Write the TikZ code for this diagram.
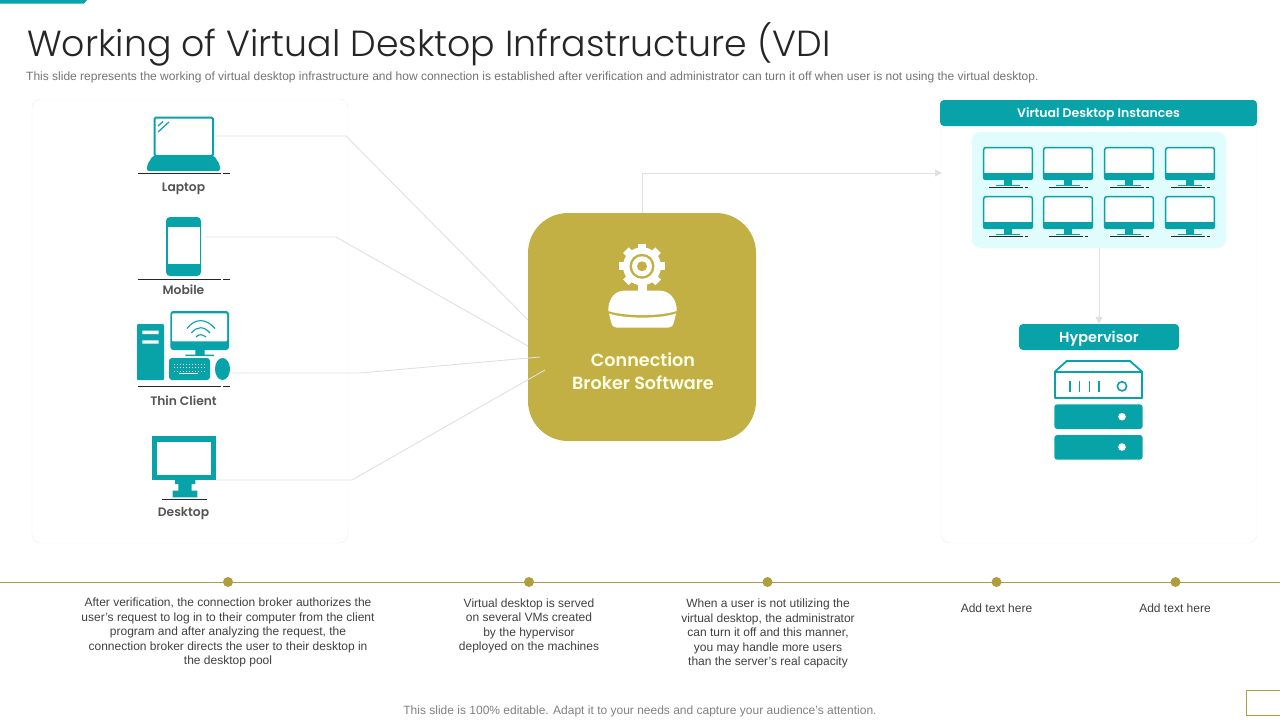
\documentclass[tikz,border=0pt]{standalone}
\usepackage{fontspec}
\setmainfont{Liberation Sans}
\newfontfamily\gothicfont{Poppins SemiBold}
\newfontfamily\lightfont{Poppins Light}
\usetikzlibrary{arrows.meta}
\definecolor{teal}{HTML}{07A3A8}
\definecolor{gold}{HTML}{C3B045}
\definecolor{paleteal}{HTML}{E0FCFC}
\definecolor{wire}{HTML}{E0E0E0}
\definecolor{panelline}{HTML}{F0F0F0}
\definecolor{bodygray}{HTML}{404040}
\definecolor{labelgray}{HTML}{555555}
\tikzset{
  panel/.style={draw=panelline, fill=white, rounded corners=9, inner sep=0},
  header/.style={fill=teal, text=white, rounded corners=4, inner sep=0, text height=9, text depth=0, font=\gothicfont\fontsize{12.5}{15}\selectfont},
  iconlabel/.style={text=labelgray, inner sep=0, font=\gothicfont\fontsize{12.3}{15}\selectfont},
  bodytext/.style={text=bodygray, inner sep=0, align=center, font=\fontsize{12}{14.4}\selectfont},
  wireline/.style={draw=wire, line width=0.9},
  baseline/.style={draw=black!85, line width=0.8},
  dot/.style={circle, fill=gold!90!black, inner sep=0, minimum size=10},
}
\begin{document}
\begin{tikzpicture}[x=1pt, y=-1pt]
\useasboundingbox (0,0) rectangle (1280,720);
\def\monitor#1#2{
  \begin{scope}[shift={(#1,#2)}]
    \draw[teal, fill=white, line width=1.5, rounded corners=2] (0.7,0.7) rectangle (49.3,32);
    \fill[teal, rounded corners=2] (0,26) rectangle (50,33);
    \fill[teal] (0,26) rectangle (50,29);
    \fill[teal] (21,33) rectangle (29,38);
    \fill[teal] (13,37.5) rectangle (37,39);
    \draw[baseline] (6,40.3) -- (40,40.3) (41.5,40.3) -- (44.5,40.3);
  \end{scope}
}

% Title and top bar
\fill[teal] (0,0) -- (87,0) -- (84,3.5) -- (0,3.5) -- cycle;
\node[anchor=west, inner sep=0, text=black!85, font=\lightfont\fontsize{36.3}{44}\selectfont] (title) at (27,44) {Working of Virtual Desktop Infrastructure (VDI};
\node[anchor=west, inner sep=0, text=black!55, font=\fontsize{12}{14}\selectfont] (subtitle) at (26,77) {This slide represents the working of virtual desktop infrastructure and how connection is established after verification and administrator can turn it off when user is not using the virtual desktop.};

% Panels
\node[panel, minimum width=316, minimum height=444] (clients) at (190,321) {};
\node[panel, minimum width=316, minimum height=430] (desktops) at (1099,328) {};
\node[header, minimum width=317, minimum height=26] (instances) at (1098.5,113) {Virtual Desktop Instances};

% Connection broker
\node[fill=gold, rounded corners=40, minimum size=228, inner sep=0] (broker) at (642,327) {};
\node[text=white!90!yellow, inner sep=0, align=center, font=\gothicfont\fontsize{17.6}{23}\selectfont] (brokerlabel) at (643,371) {Connection\\Broker Software};
\coordinate (brokertop) at (642,213);
\coordinate (in1) at (528,320);
\coordinate (in2) at (528,346);
\coordinate (in3) at (540,357);
\coordinate (in4) at (545,370);
\coordinate (out1) at (215,136);
\coordinate (out2) at (205,237);
\coordinate (out3) at (232,373);
\coordinate (out4) at (216,480);
\coordinate (arrowend) at (942,173);

% Gear and box on the broker
\draw[white, line width=8] (642,243.5) -- (642,289);
\draw[white, line width=8] (619.3,266.3) -- (664.7,266.3);
\draw[white, line width=8] (625.9,250.2) -- (658.1,282.4);
\draw[white, line width=8] (625.9,282.4) -- (658.1,250.2);
\fill[white] (642,266.3) circle (19);
\fill[gold] (642,266.3) circle (12.5);
\fill[white] (642,266.3) circle (10);
\fill[gold] (642,266.3) circle (5);
\fill[white] (637.5,285) rectangle (646.5,292);
\fill[white] (608.3,311) .. controls (608,300) and (614,290.7) .. (624,290.7) -- (660,290.7) .. controls (670,290.7) and (677,300) .. (676.7,311) .. controls (660,316.5) and (624,316.5) .. (608.3,311) -- cycle;
\fill[white] (609,313.5) .. controls (624,319) and (660,319) .. (676,313.5) -- (674,322) .. controls (673,326) and (671,327.7) .. (668,327.7) -- (617,327.7) .. controls (614,327.7) and (612,326) .. (611,322) -- cycle;

% Laptop
\draw[teal, fill=white, line width=2, rounded corners=1.5] (154.5,117.5) rectangle (213,156);
\draw[teal, line width=1.2] (158,126) -- (163,121.5) (158,132) -- (169,122);
\fill[teal, rounded corners=2] (153,155.5) -- (214,155.5) -- (220,165) -- (220,171) -- (147,171) -- (147,165) -- cycle;
\draw[baseline] (138.3,173) -- (220.7,173) (223.3,173) -- (230,173);
\node[iconlabel] (laptop) at (183.5,188.5) {Laptop};

% Mobile
\fill[teal, rounded corners=4] (166,217) rectangle (201,276);
\fill[white] (167.7,227) rectangle (200.3,263.7);
\draw[baseline] (138.3,279.3) -- (220.7,279.3) (223.3,279.3) -- (230,279.3);
\node[iconlabel] (mobile) at (183.5,290) {Mobile};

% Thin client
\fill[teal, rounded corners=1] (137,324) rectangle (164,380);
\fill[white] (142.3,330.7) rectangle (158.7,334) (142.3,340.3) rectangle (158.7,343.7);
\fill[teal, rounded corners=3] (170.3,311) rectangle (229,350);
\fill[white, rounded corners=1] (172,313.3) rectangle (227,341.3);
\draw[teal, line width=1.1] (187,328.5) .. controls (195,318) and (206,318) .. (215,328.5);
\draw[teal, line width=1.1] (191.5,333) .. controls (197,326) and (204,326) .. (210,333);
\draw[teal, line width=1.1] (196,337) .. controls (199,334) and (202,334) .. (206,337);
\fill[teal] (195.3,350) rectangle (204.7,355) (185.3,354.7) rectangle (214,356);
\fill[teal, rounded corners=3] (169,358) rectangle (210,380);
\draw[white, line width=0.7, dash pattern=on 1 off 2] (174,364) -- (206,364) (174,367.5) -- (206,367.5) (174,371) -- (206,371);
\draw[white, line width=0.9] (179,373.5) -- (198,373.5);
\fill[teal] (222.5,369) ellipse (7.5 and 11);
\draw[baseline] (138.3,386) -- (220.7,386) (223.3,386) -- (230,386);
\node[iconlabel] (thinclient) at (183.5,400.5) {Thin Client};

% Desktop
\fill[teal] (152,436) rectangle (216,480);
\fill[white] (157,442) rectangle (210.7,474.7);
\fill[teal] (175,480) -- (195.3,480) -- (195.3,484) -- (191.7,484) -- (191.7,490.7) -- (197.3,490.7) -- (197.3,497.3) -- (172.7,497.3) -- (172.7,490.7) -- (178.3,490.7) -- (178.3,484) -- (175,484) -- cycle;
\draw[baseline] (162.3,499.3) -- (206.7,499.3);
\node[iconlabel] (desktop) at (183.5,513.5) {Desktop};

% Connectors from the clients
\draw[wireline] (out1) -- (346,136) -- (in1);
\draw[wireline] (out2) -- (336,237) -- (in2);
\draw[wireline] (out3) -- (360,373) -- (in3);
\draw[wireline] (out4) -- (352,480) -- (in4);
\draw[wireline, -{Triangle[length=7,width=7]}] (brokertop) -- (642,173) -- (arrowend);

% Virtual desktop pool
\node[fill=paleteal, rounded corners=8, minimum width=254, minimum height=116, inner sep=0] (pool) at (1099,190) {};
\monitor{983}{147}
\monitor{1043}{147}
\monitor{1104}{147}
\monitor{1165}{147}
\monitor{983}{196}
\monitor{1043}{196}
\monitor{1104}{196}
\monitor{1165}{196}

% Hypervisor and server
\node[header, minimum width=160, minimum height=26, text height=11, font=\gothicfont\fontsize{14.5}{18}\selectfont] (hypervisor) at (1099,337) {Hypervisor};
\draw[wireline, -{Triangle[length=7,width=7]}] (pool.south) -- (hypervisor.north);
\draw[teal, fill=white, line width=1.8, line join=round] (1054.9,371.7) -- (1066.7,361) -- (1130,361) -- (1142.1,371.7) -- (1142.1,398) -- (1054.9,398) -- cycle;
\draw[teal, line width=1.8] (1054.9,371.7) -- (1142.1,371.7);
\draw[teal, line width=1.6] (1070,381) -- (1070,391.7) (1079.3,381) -- (1079.3,391.7) (1089.3,381) -- (1089.3,391.7) (1099,381) -- (1099,391.7);
\draw[teal, line width=1.6] (1122,386.3) circle (4.6);
\fill[teal, rounded corners=3] (1054.3,404.3) -- (1142.7,404.3) -- (1142.7,429) -- (1054.3,429) -- cycle;
\fill[white] (1122,416.7) circle (3.8);
\fill[teal, rounded corners=3] (1054.3,435) -- (1142.7,435) -- (1142.7,459.7) -- (1054.3,459.7) -- cycle;
\fill[white] (1122,447) circle (3.8);

% Timeline
\draw[gold!90!black, line width=1] (0,582) -- (1280,582);
\node[dot] (dot1) at (228,582) {};
\node[dot] (dot2) at (529,582) {};
\node[dot] (dot3) at (767.5,582) {};
\node[dot] (dot4) at (996.5,582) {};
\node[dot] (dot5) at (1175.5,582) {};
\node[bodytext, anchor=north] (text1) at (228,598) {After verification, the connection broker authorizes the\\user's request to log in to their computer from the client\\program and after analyzing the request, the\\connection broker directs the user to their desktop in\\the desktop pool};
\node[bodytext, anchor=north] (text2) at (529,598.5) {Virtual desktop is served\\on several VMs created\\by the hypervisor\\deployed on the machines};
\node[bodytext, anchor=north] (text3) at (768,599) {When a user is not utilizing the\\virtual desktop, the administrator\\can turn it off and this manner,\\you may handle more users\\than the server's real capacity};
\node[bodytext, anchor=north] (text4) at (996.5,604) {Add text here};
\node[bodytext, anchor=north] (text5) at (1175,604) {Add text here};

% Footer
\node[inner sep=0, text=black!50, font=\fontsize{12}{14}\selectfont] (footer) at (640,711) {This slide is 100\% editable. Adapt it to your needs and capture your audience's attention.};
\draw[gold!90!black, line width=1] (1285,690.5) -- (1246.5,690.5) -- (1246.5,715.5) -- (1285,715.5);
\end{tikzpicture}
\end{document}
